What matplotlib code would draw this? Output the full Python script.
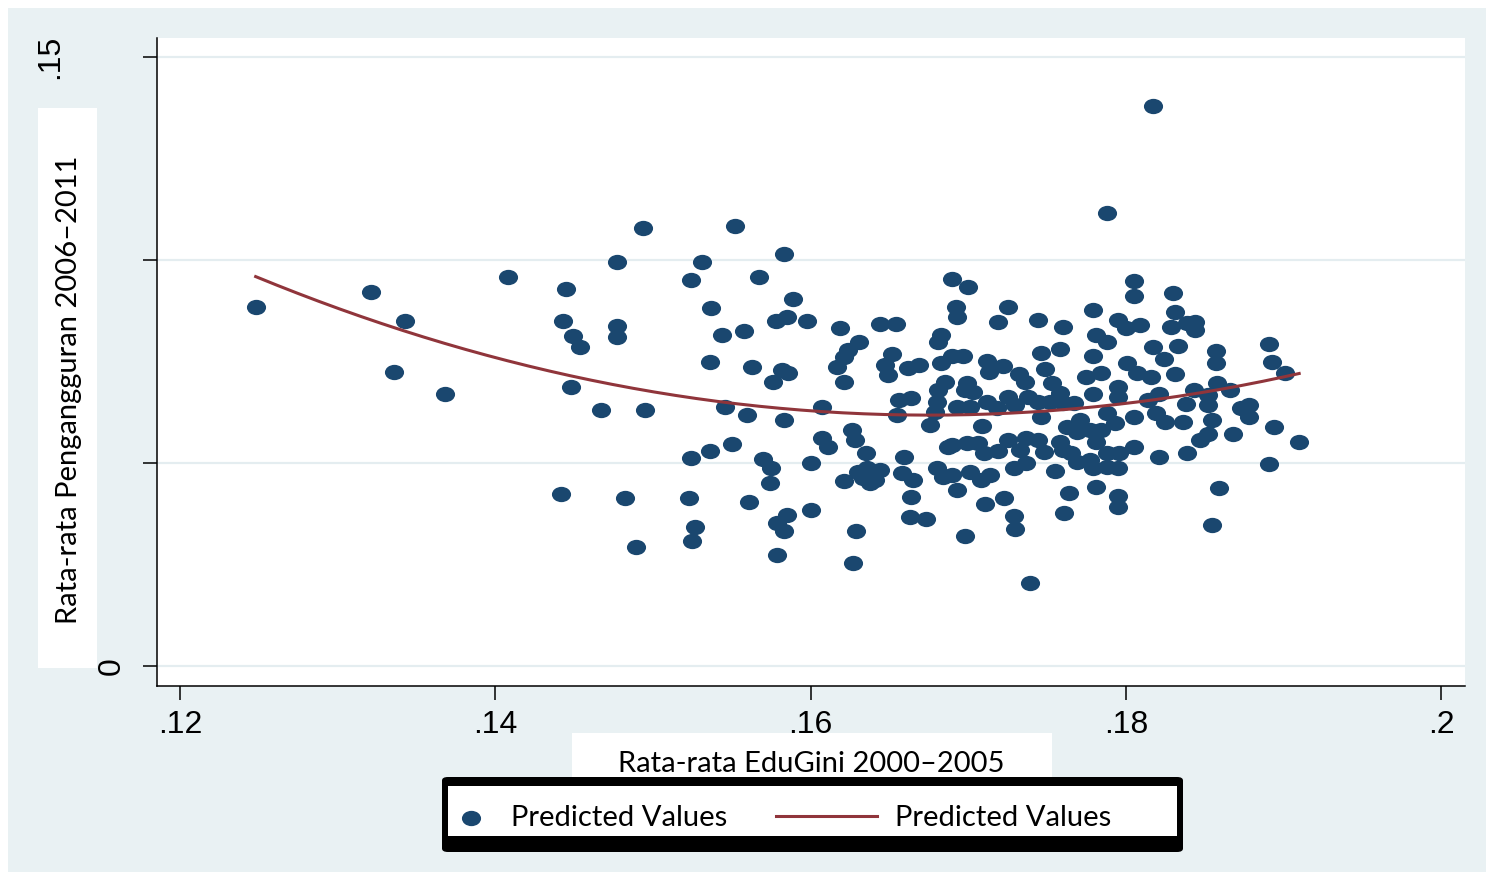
import numpy as np
import matplotlib
matplotlib.use("Agg")
import matplotlib.pyplot as plt
import matplotlib.transforms as mtransforms
from matplotlib.patches import Rectangle, FancyBboxPatch
from matplotlib.path import Path
from matplotlib.transforms import Affine2D

# ---- data ----
edugini = [
    0.1248, 0.1321, 0.1343, 0.1336, 0.1368, 0.1408, 0.1494, 0.1552, 0.1477, 0.1531,
    0.1583, 0.1445, 0.1524, 0.1567, 0.1589, 0.1537, 0.1443, 0.1477, 0.1477, 0.1449,
    0.1454, 0.1544, 0.1558, 0.1578, 0.1585, 0.1598, 0.1536, 0.1563, 0.1582, 0.1586,
    0.1576, 0.1448, 0.1467, 0.1495, 0.1546, 0.1560, 0.1583, 0.1607, 0.1607, 0.1611,
    0.1524, 0.1536, 0.1550, 0.1570, 0.1575, 0.1574, 0.1600, 0.1442, 0.1482, 0.1523,
    0.1561, 0.1600, 0.1585, 0.1579, 0.1583, 0.1527, 0.1525, 0.1489, 0.1579, 0.1627,
    0.1629, 0.1690, 0.1700, 0.1692, 0.1693, 0.1619, 0.1644, 0.1654, 0.1631, 0.1624,
    0.1621, 0.1617, 0.1621, 0.1652, 0.1647, 0.1649, 0.1662, 0.1669, 0.1683, 0.1681,
    0.1683, 0.1690, 0.1697, 0.1719, 0.1712, 0.1713, 0.1722, 0.1685, 0.1681, 0.1680,
    0.1679, 0.1699, 0.1703, 0.1698, 0.1693, 0.1701, 0.1712, 0.1718, 0.1656, 0.1664,
    0.1655, 0.1676, 0.1709, 0.1626, 0.1628, 0.1635, 0.1621, 0.1630, 0.1636, 0.1644,
    0.1638, 0.1641, 0.1633, 0.1659, 0.1658, 0.1665, 0.1664, 0.1663, 0.1673, 0.1680,
    0.1684, 0.1690, 0.1693, 0.1687, 0.1690, 0.1699, 0.1706, 0.1710, 0.1701, 0.1708,
    0.1714, 0.1719, 0.1711, 0.1698, 0.1723, 0.1805, 0.1805, 0.1779, 0.1725, 0.1744,
    0.1760, 0.1795, 0.1800, 0.1809, 0.1781, 0.1788, 0.1817, 0.1746, 0.1758, 0.1779,
    0.1801, 0.1807, 0.1816, 0.1732, 0.1736, 0.1749, 0.1753, 0.1775, 0.1784, 0.1795,
    0.1795, 0.1779, 0.1758, 0.1725, 0.1738, 0.1744, 0.1752, 0.1760, 0.1767, 0.1730,
    0.1814, 0.1746, 0.1763, 0.1771, 0.1769, 0.1788, 0.1793, 0.1805, 0.1777, 0.1784,
    0.1781, 0.1725, 0.1737, 0.1744, 0.1758, 0.1733, 0.1748, 0.1760, 0.1765, 0.1805,
    0.1821, 0.1729, 0.1737, 0.1769, 0.1777, 0.1788, 0.1796, 0.1779, 0.1788, 0.1795,
    0.1755, 0.1729, 0.1730, 0.1764, 0.1761, 0.1781, 0.1795, 0.1795, 0.1739, 0.1830,
    0.1831, 0.1829, 0.1839, 0.1844, 0.1844, 0.1824, 0.1833, 0.1857, 0.1857, 0.1891,
    0.1893, 0.1901, 0.1831, 0.1858, 0.1843, 0.1852, 0.1866, 0.1821, 0.1838, 0.1852,
    0.1819, 0.1825, 0.1836, 0.1855, 0.1873, 0.1878, 0.1878, 0.1894, 0.1868, 0.1852,
    0.1847, 0.1839, 0.1910, 0.1891, 0.1859, 0.1855, 0.1817, 0.1788,
]
unemployment = [
    0.0884, 0.0921, 0.0850, 0.0724, 0.0670, 0.0958, 0.1079, 0.1084, 0.0995, 0.0995,
    0.1015, 0.0929, 0.0951, 0.0958, 0.0904, 0.0882, 0.0850, 0.0837, 0.0810, 0.0813,
    0.0786, 0.0815, 0.0825, 0.0850, 0.0860, 0.0850, 0.0749, 0.0736, 0.0729, 0.0722,
    0.0699, 0.0687, 0.0631, 0.0631, 0.0638, 0.0618, 0.0606, 0.0638, 0.0562, 0.0539,
    0.0512, 0.0530, 0.0547, 0.0510, 0.0488, 0.0451, 0.0500, 0.0424, 0.0414, 0.0414,
    0.0404, 0.0384, 0.0372, 0.0352, 0.0333, 0.0342, 0.0308, 0.0293, 0.0273, 0.0254,
    0.0333, 0.0953, 0.0933, 0.0884, 0.0860, 0.0832, 0.0842, 0.0842, 0.0798, 0.0778,
    0.0761, 0.0736, 0.0699, 0.0768, 0.0741, 0.0717, 0.0734, 0.0741, 0.0815, 0.0798,
    0.0746, 0.0764, 0.0764, 0.0847, 0.0751, 0.0724, 0.0739, 0.0699, 0.0680, 0.0650,
    0.0626, 0.0697, 0.0675, 0.0680, 0.0638, 0.0638, 0.0650, 0.0635, 0.0655, 0.0660,
    0.0618, 0.0594, 0.0591, 0.0581, 0.0557, 0.0525, 0.0456, 0.0478, 0.0488, 0.0483,
    0.0451, 0.0458, 0.0463, 0.0515, 0.0475, 0.0458, 0.0416, 0.0367, 0.0362, 0.0488,
    0.0466, 0.0470, 0.0433, 0.0539, 0.0544, 0.0549, 0.0549, 0.0525, 0.0478, 0.0458,
    0.0470, 0.0530, 0.0399, 0.0320, 0.0414, 0.0948, 0.0911, 0.0877, 0.0884, 0.0852,
    0.0835, 0.0852, 0.0832, 0.0840, 0.0815, 0.0798, 0.0786, 0.0771, 0.0781, 0.0764,
    0.0746, 0.0722, 0.0712, 0.0719, 0.0699, 0.0732, 0.0697, 0.0712, 0.0722, 0.0687,
    0.0663, 0.0670, 0.0672, 0.0663, 0.0663, 0.0650, 0.0650, 0.0648, 0.0648, 0.0643,
    0.0655, 0.0613, 0.0589, 0.0606, 0.0576, 0.0623, 0.0598, 0.0613, 0.0581, 0.0581,
    0.0552, 0.0557, 0.0562, 0.0557, 0.0552, 0.0532, 0.0527, 0.0532, 0.0525, 0.0539,
    0.0515, 0.0488, 0.0500, 0.0502, 0.0507, 0.0525, 0.0525, 0.0488, 0.0490, 0.0488,
    0.0480, 0.0369, 0.0337, 0.0426, 0.0377, 0.0441, 0.0419, 0.0392, 0.0204, 0.0919,
    0.0872, 0.0835, 0.0845, 0.0847, 0.0828, 0.0756, 0.0788, 0.0776, 0.0746, 0.0793,
    0.0749, 0.0722, 0.0719, 0.0697, 0.0680, 0.0667, 0.0680, 0.0670, 0.0645, 0.0643,
    0.0623, 0.0601, 0.0601, 0.0606, 0.0635, 0.0643, 0.0613, 0.0589, 0.0571, 0.0571,
    0.0557, 0.0525, 0.0552, 0.0498, 0.0438, 0.0347, 0.1379, 0.1116,
]
xticks = [0.12, 0.14, 0.16, 0.18, 0.20]
xtick_labels = [".12", ".14", ".16", ".18", ".2"]
yticks = [0.0, 0.05, 0.10, 0.15]
ytick_labels = ["0", ".05", ".1", ".15"]
x_title = "Rata-rata EduGini 2000\u20132005"
y_title = "Rata-rata Pengangguran 2006\u20132011"
legend_labels = ["Predicted Values", "Predicted Values"]

# ---- styling ----
W, H = 1494, 880
BG = "#e9f1f3"
GRID = "#e4edf0"
NAVY = "#1a476f"
MAROON = "#90353b"
TEXT_FONT = ["Lato", "DejaVu Sans"]
TICK_FONT = ["Liberation Sans", "DejaVu Sans"]


def fx(px):
    return px / W


def fy(py):
    return 1 - py / H


fig = plt.figure(figsize=(W / 100, H / 100), dpi=100)
fig.patch.set_facecolor("white")
fig.add_artist(Rectangle((fx(8), fy(872)), fx(1478), 864 / H,
                         transform=fig.transFigure, facecolor=BG,
                         edgecolor="none", zorder=-10))

ax = fig.add_axes([fx(157), fy(686), fx(1308), 648 / H])
ax.set_facecolor("white")
ax.set_xlim(0.11854, 0.20152)
ax.set_ylim(-0.00493, 0.15468)

for s in ("top", "right"):
    ax.spines[s].set_visible(False)
for s in ("left", "bottom"):
    ax.spines[s].set_linewidth(1.1)
    ax.spines[s].set_color("black")

ax.set_xticks(xticks)
ax.set_xticklabels(xtick_labels, family=TICK_FONT, fontsize=23)
ax.set_yticks(yticks)
ax.set_yticklabels(ytick_labels, family=TICK_FONT, fontsize=23,
                   rotation=90, va="center")
ax.tick_params(axis="x", length=10, width=1.1, pad=7)
ax.tick_params(axis="y", length=10, width=1.1, pad=56)
ax.yaxis.grid(True, color=GRID, linewidth=1.6)
ax.set_axisbelow(True)

# the "0" label sits to the right of the title box in the reference
zero_lbl = ax.get_yticklabels()[0]
zero_lbl.set_transform(zero_lbl.get_transform() +
                       mtransforms.ScaledTranslation(0.61, 0, fig.dpi_scale_trans))

# markers: slightly wide ellipses like the Stata export
ellipse = Path.unit_circle().transformed(Affine2D().scale(1.0, 0.8))
x = np.array(edugini)
y = np.array(unemployment)
sc = ax.scatter(x, y, marker=ellipse, s=190, color=NAVY, linewidths=0,
                zorder=3)

# quadratic prediction (qfit)
coef = np.polyfit(x, y, 2)
xs = np.linspace(x.min(), x.max(), 200)
ln, = ax.plot(xs, np.polyval(coef, xs), color=MAROON, linewidth=2.2, zorder=4)

# y-title in white box (covers the inner tick labels as in reference)
fig.add_artist(Rectangle((fx(38), fy(668)), fx(59), 560 / H,
                         transform=fig.transFigure, facecolor="white",
                         edgecolor="none", zorder=5))
fig.text(fx(69), fy(390), y_title, rotation=90, ha="center", va="center",
         family=TEXT_FONT, fontsize=21, zorder=6)

# x-title in white box
fig.add_artist(Rectangle((fx(572), fy(782)), fx(480), 49 / H,
                         transform=fig.transFigure, facecolor="white",
                         edgecolor="none", zorder=5))
fig.text(fx(811), fy(764), x_title, ha="center", va="center",
         family=TEXT_FONT, fontsize=21, zorder=6)

# legend frame: heavy black border with thicker bottom
fig.add_artist(FancyBboxPatch((fx(442), fy(852)), fx(741), 75 / H,
                              boxstyle="round,pad=0,rounding_size=0.004",
                              transform=fig.transFigure, facecolor="black",
                              edgecolor="none", zorder=7))
fig.add_artist(Rectangle((fx(448), fy(836)), fx(729), 50 / H,
                         transform=fig.transFigure, facecolor="white",
                         edgecolor="none", zorder=8))

leg1 = fig.legend([sc], [legend_labels[0]], loc="center left",
                  bbox_to_anchor=(fx(456), fy(818)), frameon=False,
                  borderpad=0, borderaxespad=0, handlelength=1.0,
                  handletextpad=0.9, scatterpoints=1,
                  prop={"family": TEXT_FONT, "size": 21})
leg1.set_zorder(9)
leg2 = fig.legend([ln], [legend_labels[1]], loc="center left",
                  bbox_to_anchor=(fx(776), fy(818)), frameon=False,
                  borderpad=0, borderaxespad=0, handlelength=3.45,
                  handletextpad=0.62,
                  prop={"family": TEXT_FONT, "size": 21})
leg2.set_zorder(9)

fig.savefig("out.png", dpi=100, facecolor=fig.get_facecolor())
